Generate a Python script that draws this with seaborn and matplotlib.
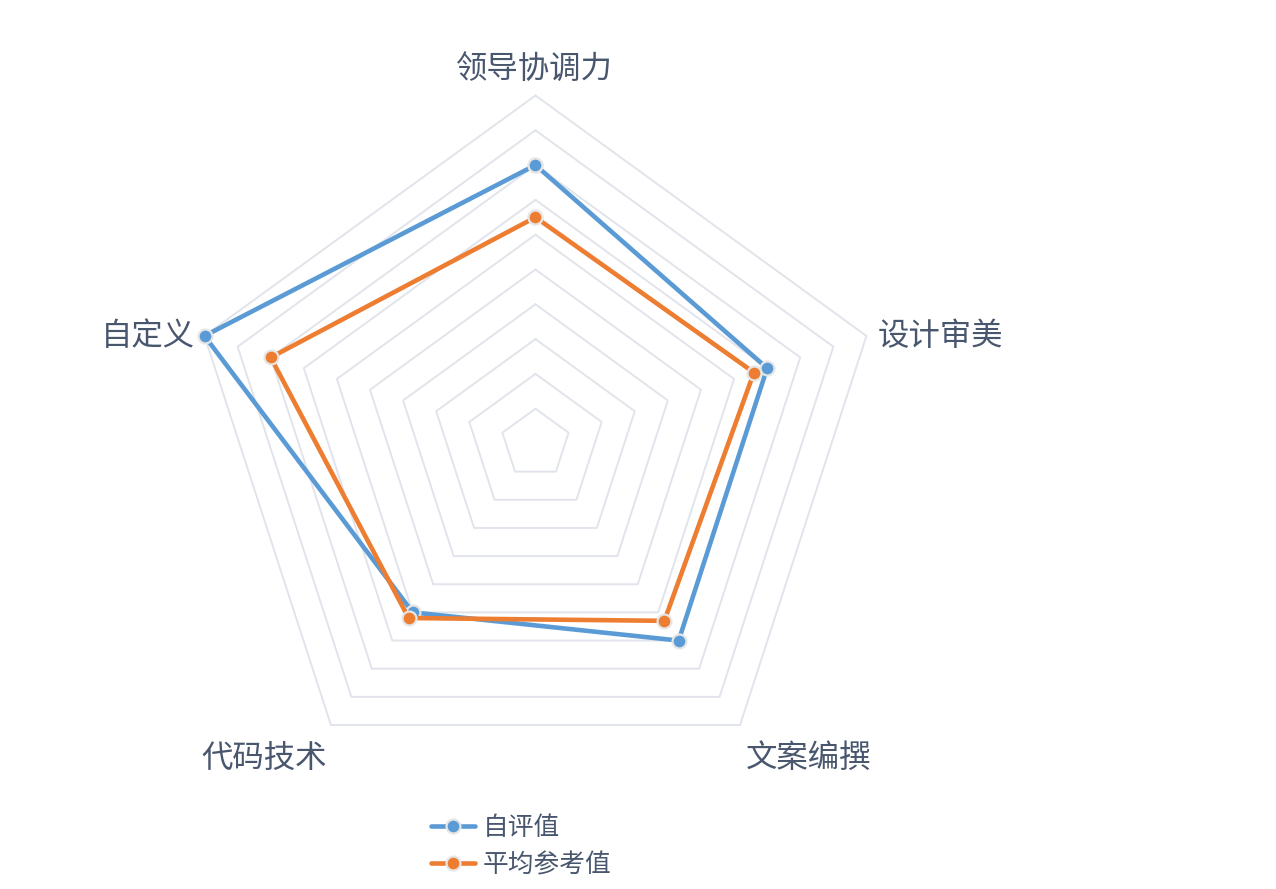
import numpy as np
import pandas as pd
import matplotlib
matplotlib.use('Agg')
import matplotlib.pyplot as plt
import matplotlib.transforms as mtransforms
import seaborn as sns

# data
categories = ['领导协调力', '设计审美', '文案编撰', '代码技术', '自定义']
self_scores = [80, 70, 70, 60, 100]
avg_scores = [65, 66, 63, 62, 80]
series_names = ['自评值', '平均参考值']
max_value = 100
ring_count = 10

colors = {'自评值': '#5b9bd5', '平均参考值': '#ed7d31'}
text_color = '#48566e'
grid_color = '#e1e4eb'

sns.set_theme(style='white')
plt.rcParams['font.family'] = ['Noto Sans CJK SC', 'DejaVu Sans']

n = len(categories)
angles = np.linspace(0, 2 * np.pi, n, endpoint=False)
closed_angles = np.append(angles, angles[0])

rows = []
for name, vals in zip(series_names, [self_scores, avg_scores]):
    closed_vals = list(vals) + [vals[0]]
    for i, (a, v) in enumerate(zip(closed_angles, closed_vals)):
        rows.append({'series': name, 'theta': a, 'value': v, 'order': i})
df = pd.DataFrame(rows)

fig = plt.figure(figsize=(12.76, 8.89), dpi=100)
ax = fig.add_axes([0.1469, 0.1097, 0.5455, 0.7829], projection='polar')
ax.set_theta_offset(np.pi / 2)
ax.set_theta_direction(-1)
ax.set_ylim(0, max_value)
ax.grid(False)
ax.spines['polar'].set_visible(False)
ax.set_xticks([])
ax.set_yticks([])
ax.patch.set_alpha(0)

# polygon rings
for k in range(1, ring_count + 1):
    r = max_value * k / ring_count
    ax.plot(closed_angles, [r] * (n + 1), color=grid_color, lw=1.4, zorder=1)

sns.lineplot(data=df, x='theta', y='value', hue='series', hue_order=series_names,
             palette=colors, sort=False, estimator=None, units='series',
             marker='o', markersize=10, markeredgecolor='#e6e6e6', markeredgewidth=1.6,
             linewidth=3.3, ax=ax, legend=False, zorder=3)
for line in ax.lines:
    line.set_clip_on(False)

# axis names
label_r = max_value * (348 + 15) / 348
x_nudge = {'left': -3.5, 'right': 4.5, 'center': -1}
for a, lab in zip(angles, categories):
    s, c = np.sin(a), np.cos(a)
    ha = 'center' if abs(s) < 1e-6 else ('left' if s > 0 else 'right')
    va = 'bottom' if c > 0.5 else ('top' if c < -0.5 else 'center')
    shift = mtransforms.offset_copy(ax.transData, fig=fig, x=x_nudge[ha], y=-4.5, units='dots')
    ax.text(a, label_r, lab, ha=ha, va=va, fontsize=22.6, color=text_color,
            clip_on=False, transform=shift)

ax.set_xlabel('')
ax.set_ylabel('')

# legend
handles = [plt.Line2D([], [], color=colors[s], lw=3.3, marker='o', markersize=10,
                      markeredgecolor='#e6e6e6', markeredgewidth=1.6) for s in series_names]
leg = fig.legend(handles, series_names, loc='upper left', bbox_to_anchor=(0.3380, 0.0835),
                 frameon=False, fontsize=18.5, handlelength=1.7, handletextpad=0.3,
                 labelspacing=0.45, borderaxespad=0, borderpad=0)
for t in leg.get_texts():
    t.set_color(text_color)

fig.savefig('out.png', dpi=100)
